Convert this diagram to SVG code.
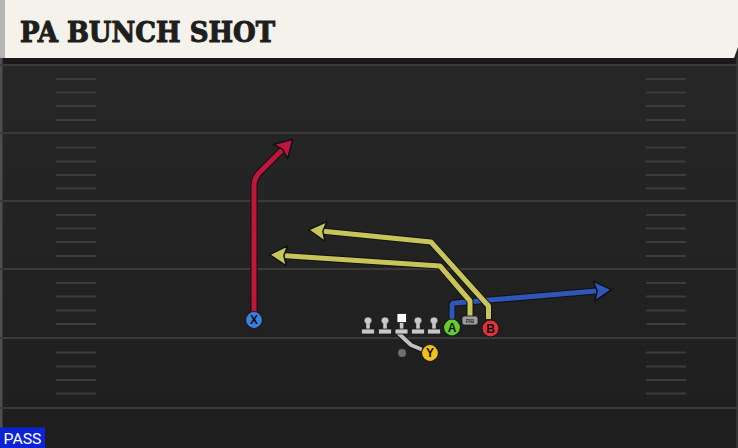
<svg xmlns="http://www.w3.org/2000/svg" width="738" height="448" viewBox="0 0 738 448">
  <defs>
    <linearGradient id="fieldGrad" x1="0" y1="0" x2="0" y2="1">
      <stop offset="0" stop-color="#282828"/>
      <stop offset="1" stop-color="#1e1e1e"/>
    </linearGradient>
    <marker id="arrRed" markerUnits="userSpaceOnUse" markerWidth="30" markerHeight="30" refX="0" refY="0" viewBox="-10 -12 24 24" orient="auto" overflow="visible">
      <path d="M10,0 L-4,-8 L-1.5,0 L-4,8 Z" fill="#c0163c" stroke="#111" stroke-width="1.2" stroke-linejoin="round"/>
    </marker>
    <marker id="arrYel" markerUnits="userSpaceOnUse" markerWidth="30" markerHeight="30" refX="0" refY="0" viewBox="-10 -12 24 24" orient="auto" overflow="visible">
      <path d="M10,0 L-4,-8 L-1.5,0 L-4,8 Z" fill="#c7c55a" stroke="#111" stroke-width="1.2" stroke-linejoin="round"/>
    </marker>
    <marker id="arrBlu" markerUnits="userSpaceOnUse" markerWidth="30" markerHeight="30" refX="0" refY="0" viewBox="-10 -12 24 24" orient="auto" overflow="visible">
      <path d="M10,0 L-4,-8 L-1.5,0 L-4,8 Z" fill="#2f56b8" stroke="#111" stroke-width="1.2" stroke-linejoin="round"/>
    </marker>
    <g id="lineman">
      <rect x="-4" y="-7" width="8" height="7" rx="3.5" fill="#c8c8c8" stroke="#1a1a1a" stroke-width="0.8"/>
      <rect x="-1.8" y="-1" width="3.6" height="7" fill="#c8c8c8"/>
      <rect x="-6.5" y="5" width="13" height="5" rx="1" fill="#c8c8c8" stroke="#1a1a1a" stroke-width="0.8"/>
    </g>
  </defs>
  <style>
    .yard { stroke: #3a3a3a; stroke-width: 2; }
    .hash { stroke: #3c3c3c; stroke-width: 2; }
    .outline { fill: none; stroke: #111; stroke-width: 7; stroke-linejoin: round; stroke-linecap: butt; }
    .route { fill: none; stroke-width: 5; stroke-linejoin: round; stroke-linecap: butt; }
    .red { stroke: #c0163c; }
    .yel { stroke: #c7c55a; }
    .blu { stroke: #2f56b8; }
    .player { stroke: #1a1a1a; stroke-width: 1.2; }
    .plabel { font-family: "Liberation Sans", Arial, sans-serif; font-weight: bold; font-size: 12px; fill: #111; text-anchor: middle; }
  </style>

  <!-- field -->
  <rect x="0" y="0" width="738" height="448" fill="url(#fieldGrad)"/>
  <rect x="0" y="58" width="738" height="6" fill="#1a1a1a"/>
  <rect x="0" y="58" width="2.5" height="390" fill="#4e4e4e"/>
  <rect x="736" y="58" width="2" height="390" fill="#333"/>

  <g id="yardlines">
    <line class="yard" x1="0" y1="65" x2="738" y2="65"/>
    <line class="yard" x1="0" y1="133" x2="738" y2="133"/>
    <line class="yard" x1="0" y1="201" x2="738" y2="201"/>
    <line class="yard" x1="0" y1="269" x2="738" y2="269"/>
    <line class="yard" x1="0" y1="338" x2="738" y2="338"/>
    <line class="yard" x1="0" y1="408" x2="738" y2="408"/>
  </g>
  <g id="hashes">
    <path class="hash" d="M56,79H96M56,92.5H96M56,106H96M56,120H96M56,147.5H96M56,161.5H96M56,175H96M56,188.5H96M56,215H96M56,228.5H96M56,242H96M56,256H96M56,283H96M56,296.5H96M56,310.5H96M56,324H96M56,352.5H96M56,366.5H96M56,380H96M56,393.5H96"/>
    <path class="hash" d="M646,79H686M646,92.5H686M646,106H686M646,120H686M646,147.5H686M646,161.5H686M646,175H686M646,188.5H686M646,215H686M646,228.5H686M646,242H686M646,256H686M646,283H686M646,296.5H686M646,310.5H686M646,324H686M646,352.5H686M646,366.5H686M646,380H686M646,393.5H686"/>
  </g>

  <!-- header -->
  <g id="header">
    <polygon points="0,0 738,0 738,47 734,58 0,58" fill="#f5f2ec"/>
    <rect x="0" y="0" width="5" height="58" fill="#b4b4b4"/>
    <text x="20" y="42.3" font-family="'DejaVu Serif', 'Liberation Serif', serif" font-weight="bold" font-size="28" fill="#1e1e1e" stroke="#1e1e1e" stroke-width="1.1" textLength="255" lengthAdjust="spacingAndGlyphs">PA BUNCH SHOT</text>
  </g>

  <!-- connectors -->
  <g id="connectors">
    <path class="outline" d="M452,319 V306 Q452,303 455,303 L599,290.7"/>
    <path class="route blu" d="M452,319 V306 Q452,303 455,303 L599,290.7" marker-end="url(#arrBlu)"/>

    <path class="outline" d="M254,312 V186 Q254,178 260,172 L284,148"/>
    <path class="route red" d="M254,312 V186 Q254,178 260,172 L284,148" marker-end="url(#arrRed)"/>

    <path class="outline" d="M488.5,319 V306 L431,242 L321,231"/>
    <path class="route yel" d="M488.5,319 V306 L431,242 L321,231" marker-end="url(#arrYel)"/>

    <path class="outline" d="M470,316 V301 L440,266 L282,255.5"/>
    <path class="route yel" d="M470,316 V301 L440,266 L282,255.5" marker-end="url(#arrYel)"/>

    <path d="M396,331 L411,345 L423,350" fill="none" stroke="#111" stroke-width="6" stroke-linejoin="round"/>
    <path d="M396,331 L411,345 L423,350" fill="none" stroke="#c0c0c0" stroke-width="4" stroke-linejoin="round"/>
  </g>

  <!-- players -->
  <g id="lt"><use href="#lineman" x="368" y="324"/></g>
  <g id="lg"><use href="#lineman" x="385" y="324"/></g>
  <g id="c">
    <rect x="399.8" y="321" width="3.6" height="8" fill="#c8c8c8"/>
    <rect x="395" y="329" width="13" height="5" rx="1" fill="#c8c8c8" stroke="#1a1a1a" stroke-width="0.8"/>
    <rect x="397" y="313.5" width="9.5" height="9" fill="#ffffff" stroke="#1a1a1a" stroke-width="0.8"/>
  </g>
  <g id="rg"><use href="#lineman" x="418" y="324"/></g>
  <g id="rt"><use href="#lineman" x="434" y="324"/></g>

  <g id="qb"><circle cx="402" cy="353" r="4" fill="#6e6e6e"/></g>

  <g id="X">
    <circle class="player" cx="254" cy="320" r="8.5" fill="#3d7fe0"/>
    <text class="plabel" x="254" y="324.3">X</text>
  </g>
  <g id="A">
    <circle class="player" cx="452" cy="327.5" r="8.5" fill="#63cc30"/>
    <text class="plabel" x="452" y="331.8">A</text>
  </g>
  <g id="RB">
    <rect x="462" y="316" width="16" height="9" rx="2.5" fill="#9c9c9c" stroke="#1a1a1a" stroke-width="0.8"/>
    <text x="470" y="323" font-family="'Liberation Sans', Arial, sans-serif" font-weight="bold" font-size="6" fill="#333" text-anchor="middle">RB</text>
  </g>
  <g id="B">
    <circle class="player" cx="490.5" cy="328.5" r="8.5" fill="#e0323e"/>
    <text class="plabel" x="490.5" y="332.8">B</text>
  </g>
  <g id="Y">
    <circle class="player" cx="430" cy="353" r="8.5" fill="#f0c020"/>
    <text class="plabel" x="430" y="357.3">Y</text>
  </g>

  <!-- play type -->
  <g id="pass">
    <rect x="0" y="427.5" width="45" height="20.5" fill="#0c22d6"/>
    <text x="3.5" y="444" font-family="Roboto, 'Liberation Sans', sans-serif" font-size="14.5" fill="#ffffff" textLength="38" lengthAdjust="spacingAndGlyphs">PASS</text>
  </g>
</svg>
